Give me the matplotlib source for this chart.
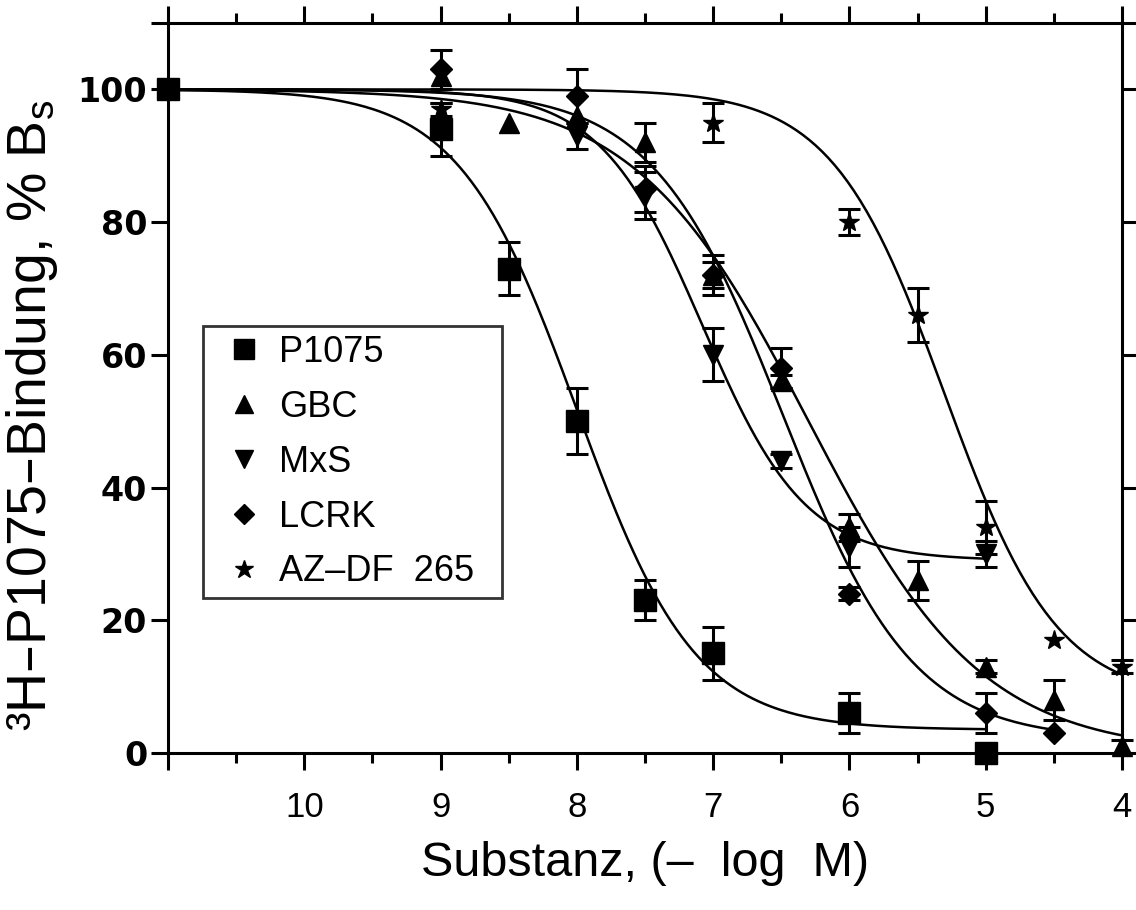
"""
Displacement curves of 3H-P1075 binding by K-channel openers / blockers.
Recreated as a single figure -> out.png
"""

import numpy as np
import matplotlib
matplotlib.use('Agg')
import matplotlib.pyplot as plt
from matplotlib.lines import Line2D
from matplotlib.ticker import MultipleLocator

plt.rcParams['font.family'] = ['Liberation Sans', 'DejaVu Sans']
plt.rcParams['mathtext.default'] = 'regular'

# ---- data (x = -log M, y = % Bs, err = SEM) ----
compounds = ['P1075', 'GBC', 'MxS', 'LCRK', 'AZ–DF  265']
markers = ['s', '^', 'v', 'D', '*']
marker_sizes = [16, 15, 15, 11, 15]

p1075_x = [11, 9, 8.5, 8, 7.5, 7, 6, 5]
p1075_y = [100, 94, 73, 50, 23, 15, 6, 0]
p1075_err = [0, 4, 4, 5, 3, 4, 3, 0]

gbc_x = [9, 8.5, 8, 7.5, 7, 6.5, 6, 5.5, 5, 4.5, 4]
gbc_y = [102, 95, 96, 92, 72, 56, 34, 26, 13, 8, 1]
gbc_err = [0, 0, 0, 3, 3, 1, 2, 3, 1, 3, 1]

mxs_x = [8, 7.5, 7, 6.5, 6, 5]
mxs_y = [93, 84, 60, 44, 31, 30]
mxs_err = [2, 3.5, 4, 1, 3, 2]

lcrk_x = [9, 8, 7.5, 7, 6.5, 6, 5, 4.5]
lcrk_y = [103, 99, 85, 72, 58, 24, 6, 3]
lcrk_err = [3, 4, 3.5, 2, 3, 1, 3, 0]

az_x = [9, 7, 6, 5.5, 5, 4.5, 4]
az_y = [97, 95, 80, 66, 34, 17, 13]
az_err = [1, 3, 2, 4, 4, 0, 1]

# sigmoid fit parameters estimated from the drawn curves
fit_top = [100, 100, 100, 100, 100]
fit_bottom = [3.5, 0, 29, 2, 8]
fit_p50 = [8.0, 6.3, 7.08, 6.49, 5.3]
fit_hill = [1.0, 0.68, 1.15, 0.91, 1.05]
fit_end = [5, 4, 5, 4.5, 4]

series_x = [p1075_x, gbc_x, mxs_x, lcrk_x, az_x]
series_y = [p1075_y, gbc_y, mxs_y, lcrk_y, az_y]
series_err = [p1075_err, gbc_err, mxs_err, lcrk_err, az_err]


def sigmoid(p, top, bottom, p50, hill):
    return bottom + (top - bottom) / (1 + 10 ** ((p50 - p) * hill))


fig = plt.figure(figsize=(11.36, 9.10), dpi=100)
ax = fig.add_axes([0.1479, 0.1725, 0.8398, 0.8022])

for i in range(len(compounds)):
    # fitted curve
    p = np.linspace(11, fit_end[i], 300)
    ax.plot(p, sigmoid(p, fit_top[i], fit_bottom[i], fit_p50[i], fit_hill[i]),
            color='black', lw=1.8, zorder=2)

    x = np.array(series_x[i], dtype=float)
    y = np.array(series_y[i], dtype=float)
    e = np.array(series_err[i], dtype=float)
    has_err = e > 0
    ax.errorbar(x[has_err], y[has_err], yerr=e[has_err], fmt='none',
                ecolor='black', elinewidth=2.2, capsize=8, capthick=2.2,
                zorder=3, clip_on=False)
    ax.plot(x, y, linestyle='none', marker=markers[i], color='black',
            markersize=marker_sizes[i], zorder=4, clip_on=False)

# axes
ax.set_xlim(11, 4)
ax.set_ylim(0, 110)
ax.set_xticks(range(4, 12))
ax.set_xticklabels(['4', '5', '6', '7', '8', '9', '10', ''])
ax.xaxis.set_minor_locator(MultipleLocator(0.5))
ax.set_yticks([0, 20, 40, 60, 80, 100, 110])
ax.set_yticklabels(['0', '20', '40', '60', '80', '100', ''])

for s in ax.spines.values():
    s.set_linewidth(2.2)

ax.tick_params(which='major', direction='out', length=12, width=2.2,
               top=True, right=True)
ax.tick_params(which='minor', direction='out', length=7, width=2.2,
               top=True, right=True)
ax.tick_params(axis='x', which='major', labelsize=25, pad=15)
ax.tick_params(axis='y', which='major', labelsize=24, pad=3)
for lbl in ax.get_yticklabels():
    lbl.set_fontfamily('DejaVu Sans')
    lbl.set_fontweight('bold')

ax.set_xlabel('Substanz, (–  log  M)', fontsize=35)
ax.xaxis.set_label_coords(0.5, -0.12)
ax.set_ylabel('³H–P1075–Bindung, % B$_{s}$', fontsize=40)
ax.yaxis.set_label_coords(-0.113, 0.462)

# legend, markers only
handles = [Line2D([], [], marker=m, color='black', linestyle='none',
                  markersize=ms * 0.9)
           for m, ms in zip(markers, marker_sizes)]
leg = ax.legend(handles, compounds, loc='upper left',
                bbox_to_anchor=(0.0367, 0.2137, 0.3134, 0.3713),
                mode='expand', borderaxespad=0, frameon=True, fancybox=False,
                edgecolor='black', fontsize=26, handlelength=1.75,
                handletextpad=0.1, labelspacing=0.55, borderpad=0.25)
leg.get_frame().set_linewidth(2.0)

fig.savefig('out.png', dpi=100)
print('Saved: out.png')
